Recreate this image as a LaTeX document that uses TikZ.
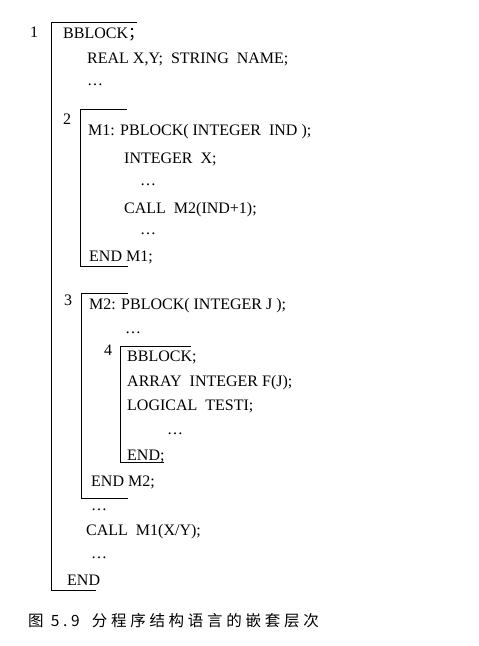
\documentclass[tikz,border=0pt]{standalone}
\usepackage{fontspec}
\setmainfont{Liberation Serif}
\newfontfamily\cjkfont[LetterSpace=24]{Noto Sans CJK SC}
\newfontfamily\cjkpunct{Noto Sans CJK SC}

\begin{document}
\begin{tikzpicture}[x=1pt,y=-1pt,
    code/.style={anchor=base west, inner sep=0pt, font=\fontsize{16}{19}\selectfont},
    num/.style={anchor=base west, inner sep=0pt, font=\fontsize{16}{19}\selectfont},
    bracket/.style={line width=1pt, line cap=rect}]
        \useasboundingbox (0,0) rectangle (479,646);
        %--- Brackets (top right, corner, bottom right) ---
        \draw [bracket] (136,22) -- (51,22) -- (51,590) -- (95,590);   % block 1
        \draw [bracket] (126,109) -- (80,109) -- (80,266) -- (127,266); % block 2
        \draw [bracket] (127,293) -- (81,293) -- (81,498) -- (127,498); % block 3
        \draw [bracket] (190,346) -- (120,346) -- (120,462) -- (163,462); % block 4
        %--- Level numbers ---
        \node [num] (n1) at (30,37) {1};
        \node [num] (n2) at (63,124) {2};
        \node [num] (n3) at (64,305) {3};
        \node [num] (n4) at (104,355) {4};
        %--- Block 1 ---
        \node [code] (b1head) at (63,38) {BBLOCK{\cjkpunct ；}};
        \node [code] (b1decl) at (87,63) {REAL X,Y;\ \ STRING\ \ NAME;};
        \node [code] (b1dots) at (87,85) {\ldots};
        %--- Block 2 ---
        \node [code] (b2head) at (88,135) {M1: PBLOCK( INTEGER\ \ IND );};
        \node [code] (b2decl) at (124,163) {INTEGER\ \ X;};
        \node [code] (b2dotsa) at (140,185) {\ldots};
        \node [code] (b2call) at (124,213) {CALL\ \ M2(IND+1);};
        \node [code] (b2dotsb) at (140,234) {\ldots};
        \node [code] (b2end) at (89,261) {END M1;};
        %--- Block 3 ---
        \node [code] (b3head) at (89,309) {M2: PBLOCK( INTEGER J );};
        \node [code] (b3dots) at (125,333) {\ldots};
        %--- Block 4 ---
        \node [code] (b4head) at (127,361) {BBLOCK;};
        \node [code] (b4arr) at (127,386) {ARRAY\ \ INTEGER F(J);};
        \node [code] (b4log) at (127,410) {LOGICAL\ \ TESTI;};
        \node [code] (b4dots) at (167,434) {\ldots};
        \node [code] (b4end) at (127,460) {END;};
        %--- Rest of block 3 and block 1 ---
        \node [code] (b3end) at (91,486) {END M2;};
        \node [code] (b1dotsa) at (91,510) {\ldots};
        \node [code] (b1call) at (86,535) {CALL\ \ M1(X/Y);};
        \node [code] (b1dotsb) at (91,558) {\ldots};
        \node [code] (b1end) at (67,585) {END};
        %--- Caption ---
        \node [anchor=base west, inner sep=0pt, font=\cjkfont\fontsize{15.5}{18}\selectfont] (cap) at (28,626) {图 5.9\hspace{12pt}分程序结构语言的嵌套层次};
    \end{tikzpicture}
\end{document}
